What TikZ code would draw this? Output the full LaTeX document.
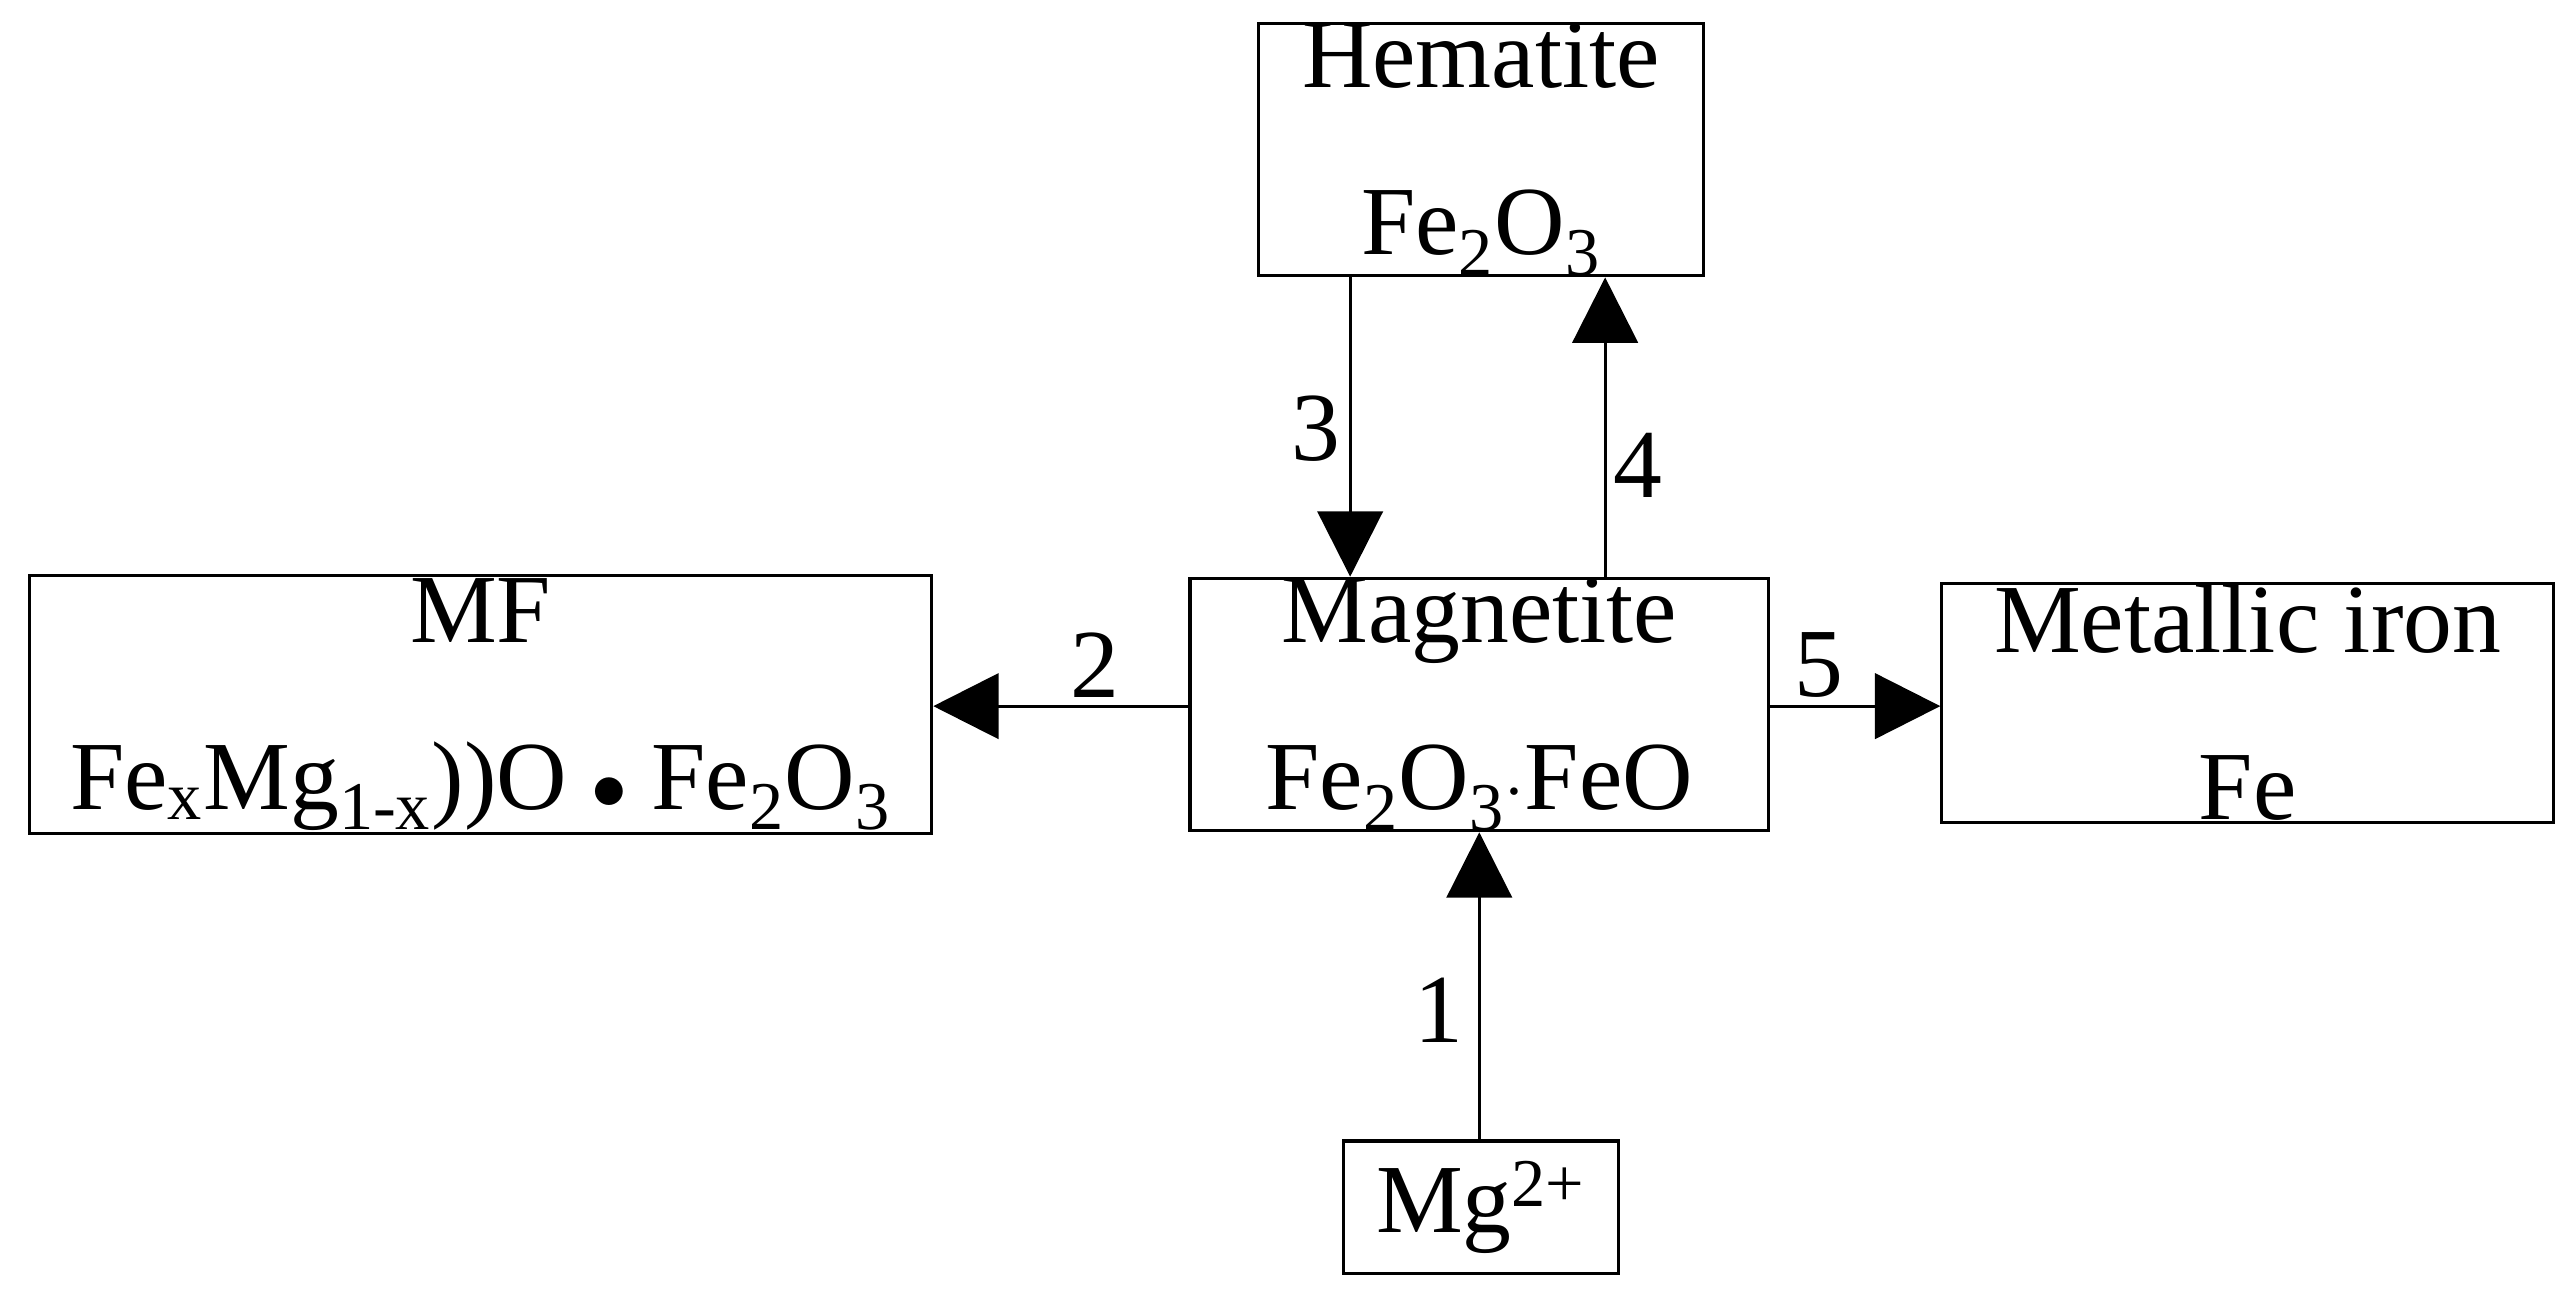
\documentclass[tikz,border=0pt]{standalone}
\usepackage{fontspec}
\setmainfont{Liberation Serif}
\usetikzlibrary{arrows.meta}
\begin{document}
\begin{tikzpicture}[x=0.02cm,y=-0.02cm,
 box/.style={draw,line width=1.1pt,inner sep=0pt,align=center,font=\fontsize{34}{58}\selectfont},
 arr/.style={line width=1.1pt,-{Triangle[length=0.8cm,width=0.8cm]}},
 lab/.style={font=\fontsize{34}{40}\selectfont}]
\useasboundingbox (0,0) rectangle (1568,800);
\node[box,minimum width=272*0.02cm,minimum height=153*0.02cm] (hem) at (906,91.5) {Hematite\\Fe\textsubscript{2}O\textsubscript{3}};
\node[box,minimum width=552*0.02cm,minimum height=158*0.02cm] (mf) at (294,431) {MF\\Fe\textsubscript{x}Mg\textsubscript{1-x}))O $\bullet$ Fe\textsubscript{2}O\textsubscript{3}};
\node[box,minimum width=354*0.02cm,minimum height=132*0.02cm] (mag) at (905,431) {Magnetite\\Fe\textsubscript{2}O\textsubscript{3}$\cdot$FeO};
\node[box,minimum width=374*0.02cm,minimum height=146*0.02cm] (fe) at (1375,430) {Metallic iron\\Fe};
\node[box,minimum width=168*0.02cm,minimum height=81*0.02cm] (mg) at (906,738.5) {Mg\textsuperscript{2+}};
\draw[arr] (hem.south -| 826,0) -- (mag.north -| 826,0);
\draw[arr] (mag.north -| 982,0) -- (hem.south -| 982,0);
\draw[arr] (mag.west |- 0,432) -- (mf.east |- 0,432);
\draw[arr] (mag.east |- 0,432) -- (fe.west |- 0,432);
\draw[arr] (mg.north -| 905,0) -- (mag.south -| 905,0);
\node[lab] (l3) at (805,262) {3};
\node[lab] (l4) at (1002,285) {4};
\node[lab] (l2) at (670,407) {2};
\node[lab] (l5) at (1113,407) {5};
\node[lab] (l1) at (880,618) {1};
\end{tikzpicture}
\end{document}
